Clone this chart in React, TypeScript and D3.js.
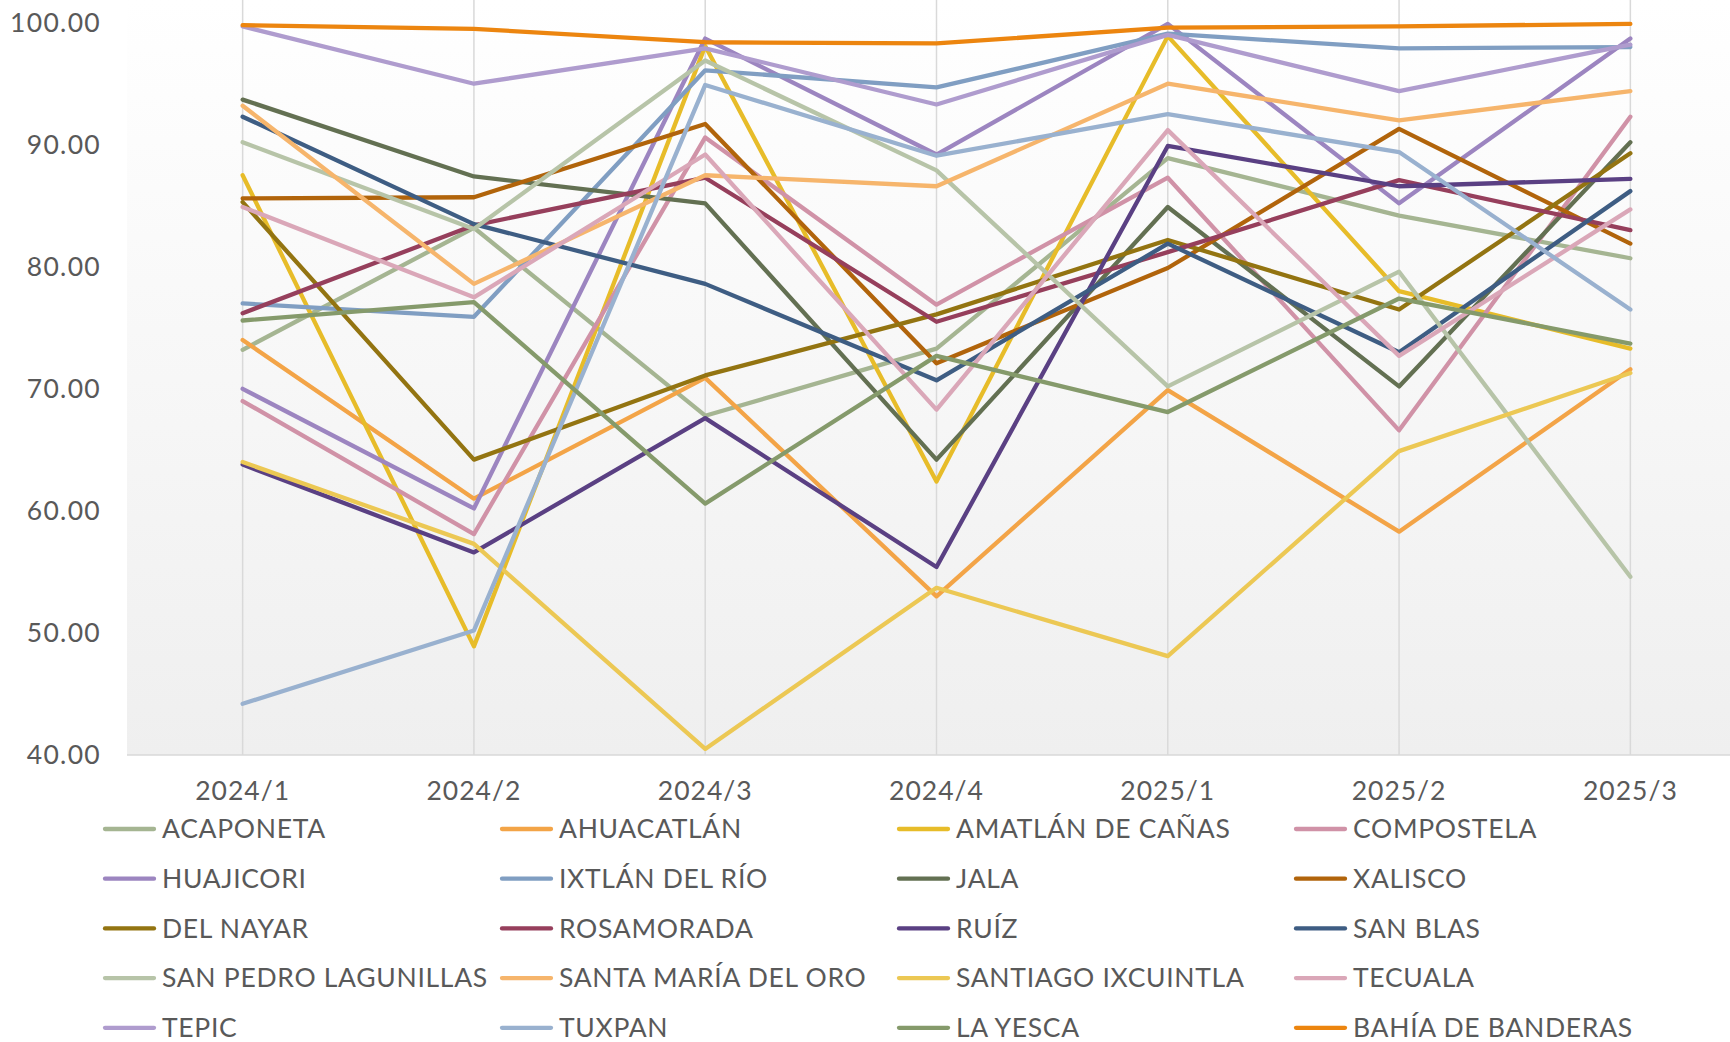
import React, { useEffect, useRef } from 'react';
import * as d3 from 'd3';

// periods on the x axis
const periods = ['2024/1', '2024/2', '2024/3', '2024/4', '2025/1', '2025/2', '2025/3'];

const yTicks = [40, 50, 60, 70, 80, 90, 100];

const names = [
  'ACAPONETA', 'AHUACATLÁN', 'AMATLÁN DE CAÑAS', 'COMPOSTELA',
  'HUAJICORI', 'IXTLÁN DEL RÍO', 'JALA', 'XALISCO',
  'DEL NAYAR', 'ROSAMORADA', 'RUÍZ', 'SAN BLAS',
  'SAN PEDRO LAGUNILLAS', 'SANTA MARÍA DEL ORO', 'SANTIAGO IXCUINTLA', 'TECUALA',
  'TEPIC', 'TUXPAN', 'LA YESCA', 'BAHÍA DE BANDERAS',
];

// Office "Paper" palette: accents, accents darker, accents lighter, then accents again
const colors = [
  '#A5B592', '#F3A447', '#E7BC29', '#D092A7', '#9C85C0', '#809EC2',
  '#637052', '#B1640B', '#937411', '#963F5C', '#5A4083', '#3E5D83',
  '#B7C4A8', '#F6B56C', '#ECC854', '#DAA7B8', '#AF9CCE', '#99B1CF',
  '#859A6B', '#EC850F',
];

const acaponeta = [73.2, 83.2, 67.8, 73.3, 88.9, 84.2, 80.7];
const ahuacatlan = [74.0, 61.0, 70.9, 53.0, 69.9, 58.3, 71.6];
const amatlan = [87.5, 48.9, 98.1, 62.4, 98.9, 78.0, 73.3];
const compostela = [69.0, 58.1, 90.6, 76.9, 87.3, 66.6, 92.3];
const huajicori = [70.0, 60.2, 98.7, 89.2, 99.9, 85.2, 98.7];
const ixtlan = [77.0, 75.9, 96.1, 94.7, 99.1, 97.9, 98.0];
const jala = [93.7, 87.4, 85.2, 64.2, 84.9, 70.2, 90.2];
const xalisco = [85.6, 85.7, 91.7, 72.1, 79.9, 91.3, 81.9];
const delNayar = [85.3, 64.2, 71.1, 76.1, 82.2, 76.5, 89.3];
const rosamorada = [76.2, 83.4, 87.3, 75.5, 81.2, 87.1, 83.0];
const ruiz = [63.8, 56.6, 67.6, 55.4, 89.9, 86.6, 87.2];
const sanBlas = [92.3, 83.5, 78.6, 70.7, 81.9, 73.0, 86.2];
const sanPedro = [90.2, 83.1, 96.9, 87.9, 70.2, 79.6, 54.6];
const santaMaria = [93.2, 78.6, 87.5, 86.6, 95.0, 92.0, 94.4];
const santiago = [64.0, 57.3, 40.5, 53.7, 48.1, 64.9, 71.3];
const tecuala = [84.9, 77.5, 89.2, 68.3, 91.2, 72.7, 84.7];
const tepic = [99.7, 95.0, 97.9, 93.3, 99.0, 94.4, 98.2];
const tuxpan = [44.2, 50.2, 94.9, 89.1, 92.5, 89.4, 76.5];
const laYesca = [75.6, 77.1, 60.6, 72.7, 68.1, 77.4, 73.7];
const bahia = [99.8, 99.5, 98.4, 98.3, 99.6, 99.7, 99.9];

const seriesValues = [
  acaponeta, ahuacatlan, amatlan, compostela, huajicori, ixtlan, jala, xalisco,
  delNayar, rosamorada, ruiz, sanBlas, sanPedro, santaMaria, santiago, tecuala,
  tepic, tuxpan, laYesca, bahia,
];

const W = 1730;
const H = 1042;
const FONT = 'Lato, "Open Sans", sans-serif';
const TEXT = '#595959';

export default function App() {
  const svgRef = useRef<SVGSVGElement | null>(null);

  useEffect(() => {
    const svg = d3.select(svgRef.current);
    svg.selectAll('*').remove();

    const plot = { left: 127, right: 1746, top: 0, bottom: 755 };

    const x = d3.scalePoint<string>().domain(periods).range([plot.left, plot.right]).padding(0.5);
    const y = d3.scaleLinear().domain([40, 100]).range([plot.bottom, 22.7]);

    // background gradient of the plot area
    const defs = svg.append('defs');
    const grad = defs.append('linearGradient').attr('id', 'bg').attr('x1', 0).attr('y1', 0).attr('x2', 0).attr('y2', 1);
    grad.append('stop').attr('offset', '0%').attr('stop-color', '#ffffff');
    grad.append('stop').attr('offset', '100%').attr('stop-color', '#efefef');
    svg.append('rect')
      .attr('x', plot.left).attr('y', plot.top)
      .attr('width', plot.right - plot.left).attr('height', plot.bottom - plot.top)
      .attr('fill', 'url(#bg)');

    // vertical grid lines
    svg.append('g').selectAll('line').data(periods).join('line')
      .attr('x1', d => x(d)!).attr('x2', d => x(d)!)
      .attr('y1', plot.top).attr('y2', plot.bottom)
      .attr('stroke', '#d9d9d9').attr('stroke-width', 1.5);

    // bottom axis line
    svg.append('line')
      .attr('x1', plot.left).attr('x2', plot.right)
      .attr('y1', plot.bottom).attr('y2', plot.bottom)
      .attr('stroke', '#d9d9d9').attr('stroke-width', 1.5);

    // y tick labels
    const fmt = d3.format('.2f');
    svg.append('g').selectAll('text').data(yTicks).join('text')
      .attr('x', 101).attr('y', d => y(d)).attr('dy', '0.35em')
      .attr('text-anchor', 'end')
      .attr('font-family', FONT).attr('font-size', 26.5).attr('letter-spacing', 1.3).attr('fill', TEXT)
      .text(d => fmt(d));

    // x tick labels
    svg.append('g').selectAll('text').data(periods).join('text')
      .attr('x', d => x(d)!).attr('y', 791).attr('dy', '0.35em')
      .attr('text-anchor', 'middle')
      .attr('font-family', FONT).attr('font-size', 26.5).attr('letter-spacing', 1).attr('fill', TEXT)
      .text(d => d);

    // lines
    const line = d3.line<number>()
      .x((_, i) => x(periods[i])!)
      .y(d => y(d));

    svg.append('g').selectAll('path').data(seriesValues).join('path')
      .attr('d', d => line(d))
      .attr('fill', 'none')
      .attr('stroke', (_, i) => colors[i])
      .attr('stroke-width', 4.3)
      .attr('stroke-linejoin', 'round')
      .attr('stroke-linecap', 'round');

    // legend: 4 columns x 5 rows
    const legend = svg.append('g');
    names.forEach((name, i) => {
      const col = i % 4;
      const row = Math.floor(i / 4);
      const lx = 105 + col * 397;
      const ly = 829 + row * 49.7;
      legend.append('line')
        .attr('x1', lx).attr('x2', lx + 49)
        .attr('y1', ly).attr('y2', ly)
        .attr('stroke', colors[i]).attr('stroke-width', 4.3)
        .attr('stroke-linecap', 'round');
      legend.append('text')
        .attr('x', lx + 57).attr('y', ly).attr('dy', '0.35em')
        .attr('font-family', FONT).attr('font-size', 26.5).attr('letter-spacing', 0.7).attr('fill', TEXT)
        .text(name);
    });
  }, []);

  return (
    <svg
      ref={svgRef}
      width={W}
      height={H}
      style={{ position: 'absolute', left: 0, top: 0, display: 'block', background: '#ffffff' }}
    />
  );
}
